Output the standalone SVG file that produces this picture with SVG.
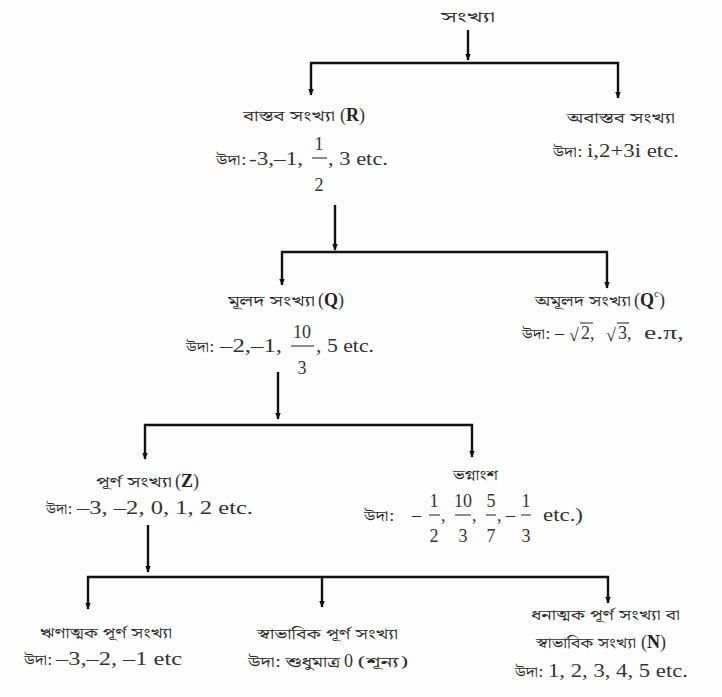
<svg xmlns="http://www.w3.org/2000/svg" width="722" height="697" viewBox="0 0 722 697">
<style>
.bn{font-family:"Noto Serif Bengali","Noto Sans Bengali","Lohit Bengali","Noto Sans",sans-serif;font-size:15px;fill:#2a2a2a}
.lt{font-family:"Liberation Serif","Times New Roman",serif;font-size:18px;fill:#333}
.b{font-weight:bold;fill:#222}
.ln{stroke:#111;stroke-width:2.4;fill:none}
.fb{stroke:#333;stroke-width:1.1}
.ov{stroke:#333;stroke-width:1.1}
</style>
<defs>
<marker id="ah" viewBox="0 0 10 10" refX="9" refY="5" markerWidth="7" markerHeight="9" markerUnits="userSpaceOnUse" orient="auto">
<path d="M0,1 L10,5 L0,9 z" fill="#111"/>
</marker>
</defs>
<rect width="722" height="697" fill="#fdfdfd"/>
<g id="connectors">
<path class="ln" d="M468,30 V60" marker-end="url(#ah)"/>
<path class="ln" d="M310,63 H619"/>
<path class="ln" d="M311,62 V95" marker-end="url(#ah)"/>
<path class="ln" d="M618,62 V98" marker-end="url(#ah)"/>
<path class="ln" d="M335,205 V250" marker-end="url(#ah)"/>
<path class="ln" d="M281,252 H608"/>
<path class="ln" d="M282,251 V285" marker-end="url(#ah)"/>
<path class="ln" d="M607,251 V288" marker-end="url(#ah)"/>
<path class="ln" d="M278,372 V419" marker-end="url(#ah)"/>
<path class="ln" d="M144,425 H473"/>
<path class="ln" d="M145,424 V459" marker-end="url(#ah)"/>
<path class="ln" d="M472,424 V457" marker-end="url(#ah)"/>
<path class="ln" d="M148,525 V572" marker-end="url(#ah)"/>
<path class="ln" d="M87,577 H609"/>
<path class="ln" d="M88,576 V609" marker-end="url(#ah)"/>
<path class="ln" d="M322,576 V607" marker-end="url(#ah)"/>
<path class="ln" d="M608,576 V603" marker-end="url(#ah)"/>
</g>
<g id="n-root">
<text class="bn" x="441" y="22" textLength="54" lengthAdjust="spacingAndGlyphs" font-size="16">সংখ্যা</text>
</g>
<g id="n-real">
<text class="bn" x="243" y="121" textLength="92" lengthAdjust="spacingAndGlyphs">বাস্তব সংখ্যা</text>
<text class="lt" x="340" y="121">(<tspan class="b">R</tspan>)</text>
<text class="bn" x="216" y="165" textLength="30" lengthAdjust="spacingAndGlyphs">উদা:</text>
<text class="lt" x="249" y="165" textLength="54" lengthAdjust="spacingAndGlyphs">-3,–1,</text>
<text class="lt" x="319" y="150" text-anchor="middle">1</text>
<line class="fb" x1="312" y1="158" x2="327" y2="158"/>
<text class="lt" x="319" y="191" text-anchor="middle">2</text>
<text class="lt" x="328" y="165" textLength="60" lengthAdjust="spacingAndGlyphs">, 3 etc.</text>
</g>
<g id="n-imag">
<text class="bn" x="567" y="123" textLength="108" lengthAdjust="spacingAndGlyphs">অবাস্তব সংখ্যা</text>
<text class="bn" x="553" y="157" textLength="29" lengthAdjust="spacingAndGlyphs">উদা:</text>
<text class="lt" x="587" y="157" textLength="92" lengthAdjust="spacingAndGlyphs">i,2+3i etc.</text>
</g>
<g id="n-rational">
<text class="bn" x="228" y="306" textLength="87" lengthAdjust="spacingAndGlyphs">মূলদ সংখ্যা</text>
<text class="lt" x="318" y="306">(<tspan class="b">Q</tspan>)</text>
<text class="bn" x="186" y="352" textLength="28" lengthAdjust="spacingAndGlyphs">উদা:</text>
<text class="lt" x="220" y="352" textLength="62" lengthAdjust="spacingAndGlyphs">–2,–1,</text>
<text class="lt" x="302" y="338" text-anchor="middle">10</text>
<line class="fb" x1="291" y1="346" x2="314" y2="346"/>
<text class="lt" x="302" y="374" text-anchor="middle">3</text>
<text class="lt" x="316" y="352" textLength="58" lengthAdjust="spacingAndGlyphs">, 5 etc.</text>
</g>
<g id="n-irrational">
<text class="bn" x="535" y="306" textLength="96" lengthAdjust="spacingAndGlyphs">অমূলদ সংখ্যা</text>
<text class="lt" x="634" y="306">(<tspan class="b">Q</tspan><tspan font-size="11" dy="-9">c</tspan><tspan dy="9">)</tspan></text>
<text class="bn" x="522" y="339" textLength="28" lengthAdjust="spacingAndGlyphs">উদা:</text>
<text class="lt" x="555" y="339">–</text>
<text class="lt" x="569" y="341" font-size="22">√</text>
<line class="ov" x1="580" y1="323" x2="593" y2="323"/>
<text class="lt" x="581" y="339">2,</text>
<text class="lt" x="606" y="341" font-size="22">√</text>
<line class="ov" x1="617" y1="323" x2="629" y2="323"/>
<text class="lt" x="618" y="339">3,</text>
<text class="lt" x="644" y="339" textLength="40" lengthAdjust="spacingAndGlyphs">e.π,</text>
</g>
<g id="n-integer">
<text class="bn" x="96" y="487" textLength="76" lengthAdjust="spacingAndGlyphs">পূর্ণ সংখ্যা</text>
<text class="lt" x="175" y="487">(<tspan class="b">Z</tspan>)</text>
<text class="bn" x="46" y="514" textLength="26" lengthAdjust="spacingAndGlyphs">উদা:</text>
<text class="lt" x="77" y="514" textLength="176" lengthAdjust="spacingAndGlyphs">–3, –2, 0, 1, 2 etc.</text>
</g>
<g id="n-fraction">
<text class="bn" x="453" y="480" textLength="45" lengthAdjust="spacingAndGlyphs">ভগ্নাংশ</text>
<text class="bn" x="364" y="521" textLength="30" lengthAdjust="spacingAndGlyphs">উদা:</text>
<text class="lt" x="412" y="521">–</text>
<text class="lt" x="434" y="507" text-anchor="middle">1</text>
<line class="fb" x1="429" y1="515" x2="440" y2="515"/>
<text class="lt" x="434" y="542" text-anchor="middle">2</text>
<text class="lt" x="441" y="521">,</text>
<text class="lt" x="463" y="507" text-anchor="middle">10</text>
<line class="fb" x1="455" y1="515" x2="471" y2="515"/>
<text class="lt" x="463" y="542" text-anchor="middle">3</text>
<text class="lt" x="472" y="521">,</text>
<text class="lt" x="491" y="507" text-anchor="middle">5</text>
<line class="fb" x1="486" y1="515" x2="496" y2="515"/>
<text class="lt" x="491" y="542" text-anchor="middle">7</text>
<text class="lt" x="497" y="521">,</text>
<text class="lt" x="506" y="521">–</text>
<text class="lt" x="526" y="507" text-anchor="middle">1</text>
<line class="fb" x1="521" y1="515" x2="531" y2="515"/>
<text class="lt" x="526" y="542" text-anchor="middle">3</text>
<text class="lt" x="543" y="521" textLength="40" lengthAdjust="spacingAndGlyphs">etc.)</text>
</g>
<g id="n-negint">
<text class="bn" x="40" y="638" textLength="132" lengthAdjust="spacingAndGlyphs">ঋণাত্মক পূর্ণ সংখ্যা</text>
<text class="bn" x="24" y="665" textLength="28" lengthAdjust="spacingAndGlyphs">উদা:</text>
<text class="lt" x="56" y="665" textLength="126" lengthAdjust="spacingAndGlyphs">–3,–2, –1 etc</text>
</g>
<g id="n-zero">
<text class="bn" x="257" y="639" textLength="141" lengthAdjust="spacingAndGlyphs">স্বাভাবিক পূর্ণ সংখ্যা</text>
<text class="bn" x="248" y="667" textLength="92" lengthAdjust="spacingAndGlyphs">উদা: শুধুমাত্র</text>
<text class="lt" x="344" y="667">0</text>
<text class="bn" x="358" y="667" textLength="50" lengthAdjust="spacingAndGlyphs">(শূন্য)</text>
</g>
<g id="n-natural">
<text class="bn" x="531" y="620" textLength="149" lengthAdjust="spacingAndGlyphs">ধনাত্মক পূর্ণ সংখ্যা বা</text>
<text class="bn" x="536" y="648" textLength="100" lengthAdjust="spacingAndGlyphs">স্বাভাবিক সংখ্যা</text>
<text class="lt" x="641" y="648">(<tspan class="b">N</tspan>)</text>
<text class="bn" x="515" y="677" textLength="28" lengthAdjust="spacingAndGlyphs">উদা:</text>
<text class="lt" x="548" y="677" textLength="140" lengthAdjust="spacingAndGlyphs">1, 2, 3, 4, 5 etc.</text>
</g>
</svg>
